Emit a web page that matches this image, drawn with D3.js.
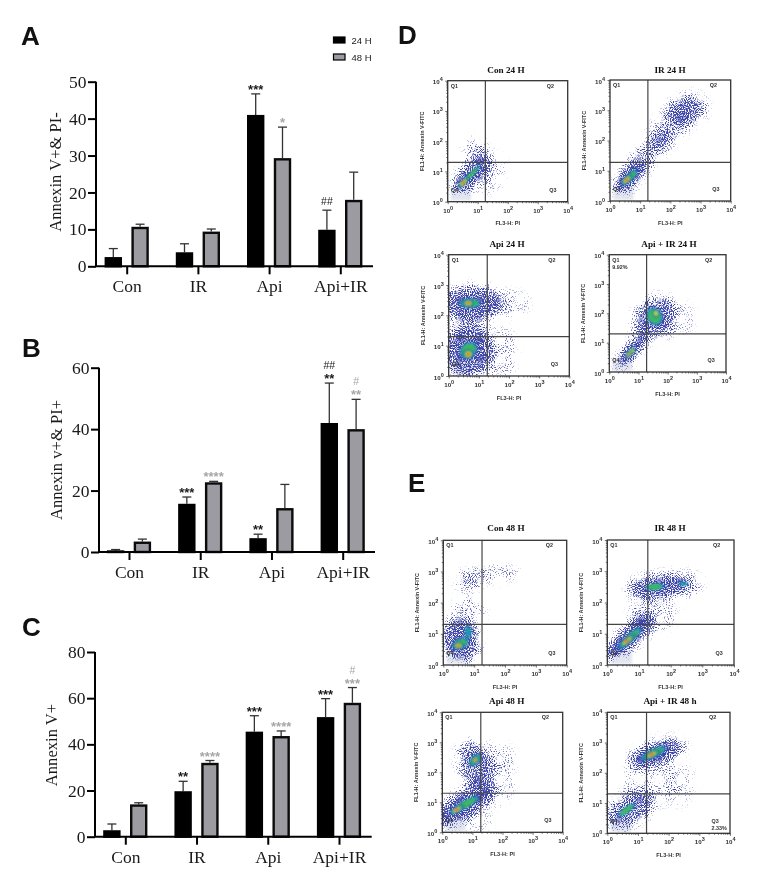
<!DOCTYPE html>
<html><head><meta charset="utf-8">
<script src="https://cdn.jsdelivr.net/npm/d3@7"></script>
<style>html,body{margin:0;background:#fff}svg{display:block;filter:blur(.3px)}</style></head>
<body><svg id="c" width="771" height="878"></svg>
<script>
// ---- bar chart data ----
const categories = ["Con","IR","Api","Api+IR"];
const seriesNames = ["24 H","48 H"];
const aMean24 = [2.5,3.8,41,9.9],   aTop24 = [4.8,6.1,46.7,15.2];
const aMean48 = [10.7,9.4,29.3,18], aTop48 = [11.4,10.1,37.7,25.5];
const bMean24 = [0.4,15.7,4.5,42],  bTop24 = [0.8,17.9,5.8,55];
const bMean48 = [3.4,22.7,14.3,40], bTop48 = [4.2,23,22,49.7];
const cMean24 = [2.8,19.7,45.5,51.8], cTop24 = [5.5,24,52.4,59.8];
const cMean48 = [14,32,43.6,58],      cTop48 = [14.7,33,45.8,64.6];
const aTicks = [0,10,20,30,40,50], bTicks = [0,20,40,60], cTicks = [0,20,40,60,80];
const aStars24 = ["","","***",""], aStars48 = ["","","*",""], aHash24 = ["","","","##"], aHash48 = ["","","",""];
const bStars24 = ["","***","**","**"], bStars48 = ["","****","","**"], bHash24 = ["","","","##"], bHash48 = ["","","","#"];
const cStars24 = ["","**","***","***"], cStars48 = ["","****","****","***"], cHash24 = ["","","",""], cHash48 = ["","","","#"];

// ---- flow plots: density regions, in decades of FL3 / FL1 ----
// clouds: [log x, log y, radius major, radius minor, angle, density]
// hot:    [log x, log y, radius major, radius minor, angle, colour level]
const clCon24 = [[.8,.92,.68,.32,-45,.85],[.95,1.7,.3,.3,0,.46],[1.55,1,.28,.5,0,.3],[1.2,.5,.25,.25,0,.18]];
const htCon24 = [[.78,.9,.52,.09,-45,3],[.52,.63,.26,.12,-45,5]];
const clIR24 = [[.65,.78,.55,.28,-45,.9],[1.2,1.47,1,.3,-50,.6],[2,2.47,.8,.42,-50,.46],[2.55,3,.55,.42,-20,.7]];
const htIR24 = [[.65,.78,.42,.15,-45,3],[.55,.7,.26,.12,-45,5]];
const clApi24 = [[.76,2.4,.85,.48,0,.8],[.7,1.62,.5,.4,0,.42],[.65,.8,.7,.68,0,.8],[1.9,2.4,.65,.33,0,.34],[1.7,.75,.5,.7,0,.3]];
const htApi24 = [[.7,2.4,.42,.2,0,3],[.65,2.4,.2,.14,0,5],[.65,.85,.38,.3,-40,3],[.65,.72,.2,.18,0,5]];
const clApiIR24 = [[.72,.66,.55,.23,-45,.85],[1.57,1.85,.68,.55,-45,.72],[1.05,1.2,.5,.2,-50,.48],[2.3,1.8,.5,.5,0,.26]];
const htApiIR24 = [[.72,.66,.3,.13,-45,4],[.66,.6,.16,.08,-45,5],[1.55,1.9,.32,.38,-30,3],[1.6,2,.13,.16,0,4]];
const clCon48 = [[.86,2.73,.4,.25,0,.55],[1.73,2.94,.6,.2,0,.38],[.8,1.66,.42,.48,0,.36],[.56,.8,.5,.6,-20,.8]];
const htCon48 = [[.55,.68,.34,.2,-20,3],[.49,.62,.2,.13,0,5],[.8,1.05,.14,.25,0,2]];
const clIR48 = [[.72,.9,.85,.28,-42,.9],[1.56,2.5,.75,.33,-5,.8],[2.4,2.6,.5,.3,0,.5],[1.45,1.65,.6,.5,0,.3],[.98,1.55,.2,.2,0,.42]];
const htIR48 = [[.7,.85,.6,.16,-42,3],[.62,.77,.36,.1,-40,5],[1.5,2.5,.36,.13,-5,3],[2.4,2.6,.18,.08,0,2]];
const clApi48 = [[.7,.9,1,.38,-30,.85],[1.09,2.2,.45,.72,-20,.7],[1.8,1.75,.5,.7,0,.26],[1.7,2.5,.6,.4,0,.26],[1.15,.4,.4,.3,0,.26]];
const htApi48 = [[.75,.92,.65,.16,-30,3],[.48,.75,.3,.11,-30,5],[1.09,2.41,.3,.18,-45,3],[1.09,2.41,.16,.1,-45,5]];
const clApiIR48 = [[1.6,2.65,.8,.33,-20,.85],[.74,.8,.7,.43,-30,.72],[1.5,1.65,.8,.6,0,.26],[2.37,1.65,.4,.6,0,.2]];
const htApiIR48 = [[1.5,2.64,.55,.18,-25,3],[1.45,2.6,.32,.11,-25,5],[.63,.77,.4,.12,-35,3]];
const titlesFlow = ["Con 24 H","IR 24 H","Api 24 H","Api + IR 24 H","Con 48 H","IR 48 H","Api 48 H","Api + IR 48 h"];
const cloudsFlow = [clCon24,clIR24,clApi24,clApiIR24,clCon48,clIR48,clApi48,clApiIR48];
const hotFlow = [htCon24,htIR24,htApi24,htApiIR24,htCon48,htIR48,htApi48,htApiIR48];
const gatesFlow = [[18,20],[18,19],[19,20],[19,20],[18,20],[19,20],[19,20],[19,20]];
const notesFlow = [null,null,null,["Q1","9.92%"],null,null,null,["Q3","2.33%"]];
const decades = [1,10,100,1000,10000];

// ---- layout ----
const svg = d3.select("#c");
const serif = "'Liberation Serif','Times New Roman',serif", sans = "'Liberation Sans',Arial,sans-serif";
const gray = "#9b9ba1", annGray = "#a6a6a8", ink = "#1a1a1a";

function barChart(o){
  const x = d3.scalePoint().domain(categories).range(o.cx);
  const off = d3.scalePoint().domain(seriesNames).range([-13.4,13.4]);
  const y = d3.scaleLinear().domain([0,o.ticks[o.ticks.length-1]]).range([o.y0,o.y1]);
  const g = svg.append("g");
  const bw = 15, sw = 2.4;
  [[o.m24,o.t24,"#000","#000",o.s24,o.h24,ink],[o.m48,o.t48,gray,"#0b0b0b",o.s48,o.h48,annGray]].forEach((s,i)=>{
    const sg = g.append("g");
    categories.forEach((c,k)=>{
      const cx = x(c)+off(seriesNames[i]);
      sg.append("line").attr("x1",cx).attr("x2",cx).attr("y1",y(s[0][k])).attr("y2",y(s[1][k])).attr("stroke","#333").attr("stroke-width",1.3);
      sg.append("line").attr("x1",cx-4.5).attr("x2",cx+4.5).attr("y1",y(s[1][k])).attr("y2",y(s[1][k])).attr("stroke","#333").attr("stroke-width",1.3);
      const top = Math.min(y(s[0][k])+sw/2, y(0)-.5);
      sg.append("rect").attr("x",cx-bw/2).attr("width",bw).attr("y",top).attr("height",y(0)-top)
        .attr("fill",s[2]).attr("stroke",s[3]).attr("stroke-width",sw);
      const ys = y(s[1][k]);
      if(s[4][k]) sg.append("text").attr("x",cx).attr("y",ys).attr("text-anchor","middle").attr("font-family",sans).attr("font-weight","bold").attr("font-size",13).attr("fill",s[6]).text(s[4][k]);
      if(s[5][k]) sg.append("text").attr("x",cx).attr("y",y(s[1][k])-(s[4][k]?14:5)).attr("text-anchor","middle").attr("font-family",sans).attr("font-size",10.5).attr("fill",s[6]).text(s[5][k]);
    });
  });
  const ax = g.append("g").attr("transform",`translate(0,${o.y0})`)
    .call(d3.axisBottom(x).tickSize(8).tickPadding(5.5));
  ax.select(".domain").attr("d",`M${o.ax},0H${o.xEnd}`);
  const ay = g.append("g").attr("transform",`translate(${o.ax},0)`)
    .call(d3.axisLeft(y).tickValues(o.ticks).tickSize(8).tickPadding(1.5).tickFormat(d3.format("d")));
  ay.select(".domain").attr("d",`M0,${o.y1}V${o.y0}`);
  [ax,ay].forEach(a=>{
    a.selectAll(".domain,line").attr("stroke","#000").attr("stroke-width",2);
    a.selectAll("text").attr("font-family",serif).attr("font-size",17.5).attr("fill",ink);
  });
  svg.append("text").attr("transform",`translate(${o.tx},${o.ty}) rotate(-90)`).attr("text-anchor","middle").attr("dominant-baseline","central")
    .attr("font-family",serif).attr("font-size",16.6).attr("fill",ink).text(o.title);
}
barChart({cx:[126.7,340.3],ax:96,xEnd:373,y0:266.3,y1:81.7,ticks:aTicks,m24:aMean24,t24:aTop24,m48:aMean48,t48:aTop48,s24:aStars24,s48:aStars48,h24:aHash24,h48:aHash48,title:"Annexin V+& PI-",tx:55,ty:172});
barChart({cx:[129,342.7],ax:99,xEnd:375,y0:552,y1:367.7,ticks:bTicks,m24:bMean24,t24:bTop24,m48:bMean48,t48:bTop48,s24:bStars24,s48:bStars48,h24:bHash24,h48:bHash48,title:"Annexin v+& PI+",tx:56.7,ty:460});
barChart({cx:[125.3,339],ax:95,xEnd:371.7,y0:836.7,y1:652,ticks:cTicks,m24:cMean24,t24:cTop24,m48:cMean48,t48:cTop48,s24:cStars24,s48:cStars48,h24:cHash24,h48:cHash48,title:"Annexin V+",tx:51.7,ty:745});

// legend
[[seriesNames[0],"#000",37],[seriesNames[1],gray,54]].forEach(d=>{
  svg.append("rect").attr("x",333.5).attr("y",d[2]).attr("width",11.5).attr("height",6).attr("fill",d[1]).attr("stroke","#000").attr("stroke-width",1.2);
  svg.append("text").attr("x",351.5).attr("y",d[2]+6.5).attr("font-family",sans).attr("font-size",9.5).attr("fill",ink).text(d[0]);
});
// panel letters
[["A",21,44.7],["B",22,356.7],["C",22,636],["D",398,44],["E",408,492]].forEach(d=>
  svg.append("text").attr("x",d[1]).attr("y",d[2]).attr("font-family",sans).attr("font-weight","bold").attr("font-size",26).attr("fill","#111").text(d[0]));

// flow plots
const layout = [
 {l:447.7,r:567.7,t:80.7,b:201.7,tc:506,tb:73.3},
 {l:610,r:730.7,t:80,b:201,tc:670,tb:73},
 {l:448.7,r:569.3,t:254.7,b:376,tc:507,tb:247},
 {l:609.3,r:726,t:254.7,b:372,tc:669,tb:246.7},
 {l:443.3,r:566.7,t:540.3,b:665,tc:506,tb:530.7},
 {l:607.3,r:734,t:540,b:665,tc:670,tb:530.7},
 {l:442.3,r:562.7,t:712.3,b:832.3,tc:506.7,tb:704},
 {l:607.3,r:730,t:712.3,b:833.3,tc:670,tb:704}];
const defs = svg.append("defs");
const hotColors = ["#2f3ca8","#1f9fb4","#3fbe4e","#f2d41c","#e62c0c"];
const hotScale = [1,.8,.62,.44,.26];
defs.append("filter").attr("id","hotBlur").attr("x","-40%").attr("y","-40%").attr("width","180%").attr("height","180%")
  .append("feGaussianBlur").attr("stdDeviation",.8);
layout.forEach((L,i)=>{
  const f = defs.append("filter").attr("id","speck"+i).attr("color-interpolation-filters","sRGB")
    .attr("x","-30%").attr("y","-30%").attr("width","160%").attr("height","160%");
  f.append("feGaussianBlur").attr("in","SourceGraphic").attr("stdDeviation",4.5).attr("result","soft");
  f.append("feTurbulence").attr("type","fractalNoise").attr("baseFrequency",.95).attr("numOctaves",1).attr("seed",i*7+3).attr("result","n");
  f.append("feColorMatrix").attr("in","n").attr("type","matrix").attr("values","0 0 0 0 0 0 0 0 0 0 0 0 0 0 0 2.6 0 0 0 -.8").attr("result","na");
  f.append("feComposite").attr("in","soft").attr("in2","na").attr("operator","arithmetic").attr("k1",0).attr("k2",1).attr("k3",1).attr("k4",-1).attr("result","m");
  f.append("feColorMatrix").attr("in","m").attr("type","matrix").attr("values","0 0 0 0 .24 0 0 0 0 .27 0 0 0 0 .66 0 0 0 2.6 0");
  defs.append("clipPath").attr("id","clip"+i).append("rect").attr("x",L.l).attr("y",L.t).attr("width",L.r-L.l).attr("height",L.b-L.t);

  const x = d3.scaleLog().domain([1,10000]).range([L.l,L.r]);
  const y = d3.scaleLog().domain([1,10000]).range([L.b,L.t]);
  const ell = (sel,d,k)=>{
    const px = x(10**d[0]), py = y(10**d[1]);
    const unit = x(10)-x(1);
    sel.append("ellipse").attr("cx",px).attr("cy",py).attr("rx",d[2]*unit*k).attr("ry",d[3]*unit*k).attr("transform",`rotate(${d[4]} ${px} ${py})`);
  };
  const g = svg.append("g");
  const inner = g.append("g").attr("clip-path",`url(#clip${i})`);
  // pale low-signal corner
  inner.append("rect").attr("x",x(1.3)).attr("y",y(3)).attr("width",x(6)-x(1.3)).attr("height",y(1.1)-y(3)).attr("fill","#e3e6ee").attr("filter","url(#hotBlur)");
  const sp = inner.append("g").attr("filter",`url(#speck${i})`).attr("fill","#000");
  cloudsFlow[i].forEach(d=>{ ell(sp,d,1.25); sp.select("ellipse:last-child").attr("fill-opacity",d[5]); });
  const hg = inner.append("g").attr("filter","url(#hotBlur)");
  hotFlow[i].forEach(d=>{
    for(let k=0;k<d[5];k++){
      ell(hg,d,hotScale[k]);
      hg.select("ellipse:last-child").attr("fill",hotColors[k]).attr("fill-opacity",k==0?.5:.85);
    }
  });
  // quadrant gates
  const gv = gatesFlow[i];
  g.append("line").attr("x1",x(gv[0])).attr("x2",x(gv[0])).attr("y1",L.t).attr("y2",L.b).attr("stroke","#444").attr("stroke-width",1.2);
  g.append("line").attr("x1",L.l).attr("x2",L.r).attr("y1",y(gv[1])).attr("y2",y(gv[1])).attr("stroke","#444").attr("stroke-width",1.2);
  g.append("rect").attr("x",L.l).attr("y",L.t).attr("width",L.r-L.l).attr("height",L.b-L.t).attr("fill","none").attr("stroke","#333").attr("stroke-width",1.3);
  // axes
  const minor = d3.merge(decades.slice(0,4).map(b=>d3.range(2,10).map(m=>m*b)));
  const axX = g.append("g").attr("transform",`translate(0,${L.b})`);
  axX.append("g").call(d3.axisBottom(x).tickValues(minor).tickSize(1.5).tickFormat(""));
  const majorX = axX.append("g").call(d3.axisBottom(x).tickValues(decades).tickSize(2.5).tickPadding(2.5).tickFormat(""));
  const axY = g.append("g").attr("transform",`translate(${L.l},0)`);
  axY.append("g").call(d3.axisLeft(y).tickValues(minor).tickSize(1.5).tickFormat(""));
  const majorY = axY.append("g").call(d3.axisLeft(y).tickValues(decades).tickSize(2.5).tickPadding(2.5).tickFormat(""));
  g.selectAll(".domain").attr("stroke","none");
  g.selectAll(".tick line").attr("stroke","#333").attr("stroke-width",.7);
  const sup = (sel,d)=>{
    sel.text("10"); sel.append("tspan").attr("dy",-3).attr("font-size",5.5).text(Math.round(Math.log10(d)));
  };
  majorX.selectAll(".tick text").attr("dy",6).each(function(d){sup(d3.select(this),d)});
  majorY.selectAll(".tick text").attr("dy",3).each(function(d){sup(d3.select(this),d)});
  g.selectAll(".tick text").attr("font-family",sans).attr("font-weight","bold").attr("font-size",6.2).attr("fill","#333");
  // labels
  const small = (tx,ty,s,anchor,fs)=>g.append("text").attr("x",tx).attr("y",ty).attr("text-anchor",anchor||"start").attr("font-family",sans).attr("font-weight","bold").attr("font-size",fs||5.4).attr("fill","#333").text(s);
  small(L.l+3,L.t+7,"Q1"); small(L.r-21,L.t+7,"Q2"); small(L.r-18.5,L.b-10,"Q3"); small(L.l+3,L.b-10,"Q4");
  if(notesFlow[i]){ notesFlow[i][0]=="Q1" ? small(L.l+3,L.t+14,notesFlow[i][1]) : small(L.r-18.5,L.b-3,notesFlow[i][1]); }
  small((L.l+L.r)/2,L.b+23.5,"FL3-H: PI","middle",5.6);
  g.append("text").attr("transform",`translate(${L.l-24},${(L.t+L.b)/2}) rotate(-90)`).attr("text-anchor","middle")
    .attr("font-family",sans).attr("font-weight","bold").attr("font-size",5.5).attr("fill","#333").text("FL1-H: Annexin V-FITC");
  g.append("text").attr("x",L.tc).attr("y",L.tb).attr("text-anchor","middle").attr("font-family",serif).attr("font-weight","bold").attr("font-size",9.2).attr("fill","#111").text(titlesFlow[i]);
});
</script></body></html>
